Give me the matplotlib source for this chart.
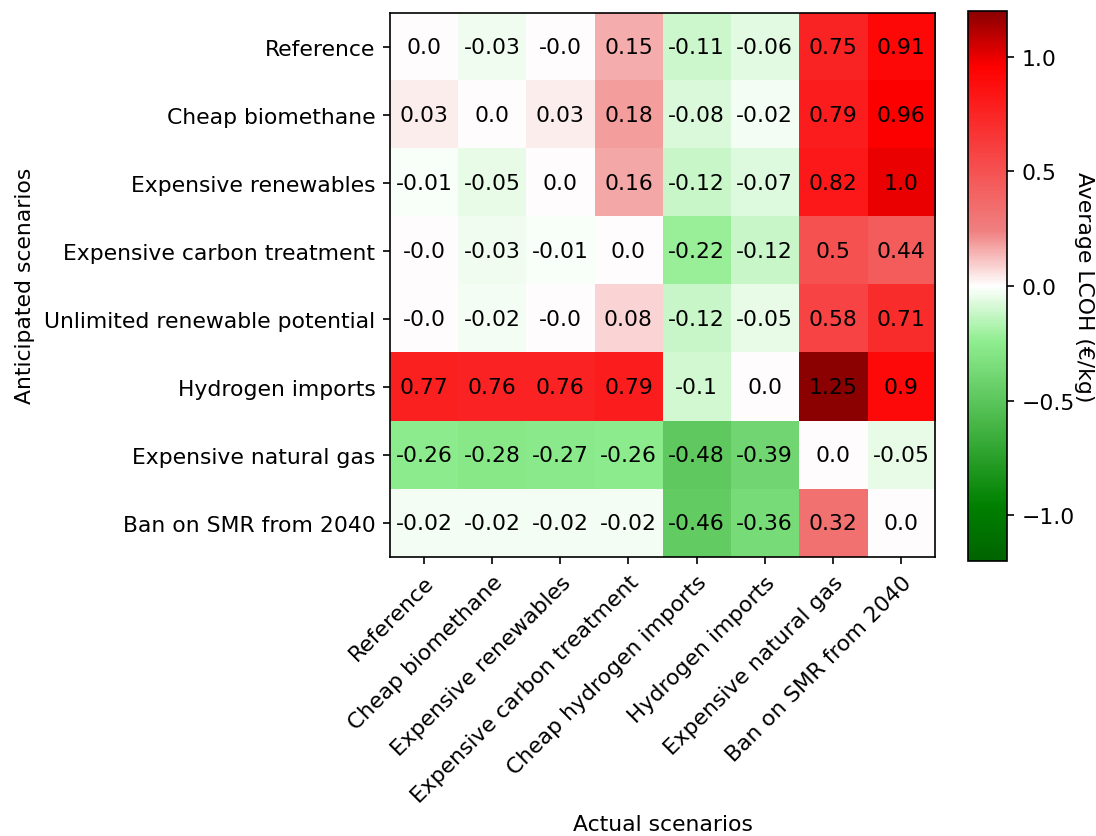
import numpy as np
import matplotlib
matplotlib.use("Agg")
import matplotlib.pyplot as plt
from matplotlib.colors import LinearSegmentedColormap

scenarios = ["Reference", "Cheap biomethane", "Expensive renewables",
             "Expensive carbon treatment", "Unlimited renewable potential",
             "Hydrogen imports", "Expensive natural gas", "Ban on SMR from 2040"]
actual = ["Reference", "Cheap biomethane", "Expensive renewables",
          "Expensive carbon treatment", "Cheap hydrogen imports",
          "Hydrogen imports", "Expensive natural gas", "Ban on SMR from 2040"]

row_reference = [0.0, -0.03, -0.0, 0.15, -0.11, -0.06, 0.75, 0.91]
row_cheap_bio = [0.03, 0.0, 0.03, 0.18, -0.08, -0.02, 0.79, 0.96]
row_exp_ren = [-0.01, -0.05, 0.0, 0.16, -0.12, -0.07, 0.82, 1.0]
row_exp_carbon = [-0.0, -0.03, -0.01, 0.0, -0.22, -0.12, 0.5, 0.44]
row_unlimited = [-0.0, -0.02, -0.0, 0.08, -0.12, -0.05, 0.58, 0.71]
row_h2_imports = [0.77, 0.76, 0.76, 0.79, -0.1, 0.0, 1.25, 0.9]
row_exp_gas = [-0.26, -0.28, -0.27, -0.26, -0.48, -0.39, 0.0, -0.05]
row_ban_smr = [-0.02, -0.02, -0.02, -0.02, -0.46, -0.36, 0.32, 0.0]

data = np.array([row_reference, row_cheap_bio, row_exp_ren, row_exp_carbon,
                 row_unlimited, row_h2_imports, row_exp_gas, row_ban_smr])

plt.rcParams["font.size"] = 10.5

cmap = LinearSegmentedColormap.from_list(
    "gwr",
    [(0.0, "darkgreen"), (0.1, "green"), (0.4, "lightgreen"), (0.5, "white"),
     (0.6, "lightcoral"), (0.9, "red"), (1.0, "darkred")])

fig = plt.figure(figsize=(10.96 / 1.5, 8.37 / 1.5), dpi=150)
ax = fig.add_axes([0.3558, 0.3333, 0.4973, 0.65])
cax = fig.add_axes([0.8832, 0.3286, 0.0356, 0.657])

im = ax.imshow(data, cmap=cmap, vmin=-1.2, vmax=1.2, aspect="auto")
for i in range(data.shape[0]):
    for j in range(data.shape[1]):
        ax.text(j, i, str(data[i, j]), ha="center", va="center", color="black")

ax.set_xticks(np.arange(len(actual)))
ax.set_xticklabels(actual, rotation=45, ha="right", rotation_mode="anchor")
ax.set_yticks(np.arange(len(scenarios)))
ax.set_yticklabels(scenarios)
ax.set_xlabel("Actual scenarios")
ax.set_ylabel("Anticipated scenarios")
ax.xaxis.set_label_coords(0.5, -0.472)
ax.yaxis.set_label_coords(-0.652, 0.5)

cb = fig.colorbar(im, cax=cax)
cb.set_label("Average LCOH (€/kg)", rotation=270, labelpad=9)

fig.savefig("out.png", dpi=150)
